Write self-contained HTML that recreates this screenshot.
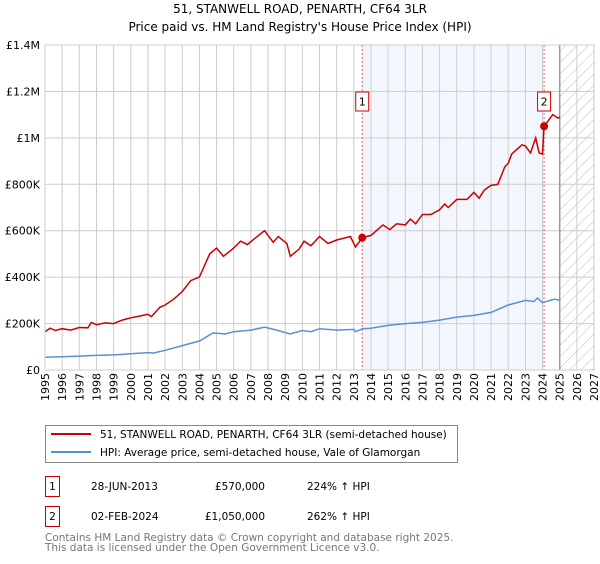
<!DOCTYPE html>
<html><head><meta charset="utf-8"><style>
body{margin:0;background:#fff;font-family:"DejaVu Sans","Liberation Sans",sans-serif;}
svg text{font-family:"DejaVu Sans","Liberation Sans",sans-serif;}
</style></head><body>
<svg width="600" height="560" viewBox="0 0 600 560" xmlns="http://www.w3.org/2000/svg">
<defs><pattern id="hatch" width="8" height="8" patternUnits="userSpaceOnUse" patternTransform="rotate(45)"><line x1="0" y1="0" x2="0" y2="8" stroke="#bbb" stroke-width="1"/></pattern></defs>
<text x="300" y="13" text-anchor="middle" font-size="12">51, STANWELL ROAD, PENARTH, CF64 3LR</text>
<text x="300" y="31" text-anchor="middle" font-size="12">Price paid vs. HM Land Registry's House Price Index (HPI)</text>
<g id="plot"></g>
<g>
<rect x="45.5" y="425.5" width="412" height="37" fill="#fff" stroke="#888"/>
<line x1="51" y1="434" x2="91" y2="434" stroke="#cc0000" stroke-width="2"/>
<text x="100" y="438" font-size="10.5">51, STANWELL ROAD, PENARTH, CF64 3LR (semi-detached house)</text>
<line x1="51" y1="452" x2="91" y2="452" stroke="#5b8fd4" stroke-width="2"/>
<text x="100" y="456" font-size="10.5">HPI: Average price, semi-detached house, Vale of Glamorgan</text>
</g>
<g font-size="10.5">
<rect x="45.5" y="476.5" width="14" height="20" fill="#fff" stroke="#cc0000"/>
<text x="52.5" y="490" text-anchor="middle">1</text>
<text x="91" y="490">28-JUN-2013</text>
<text x="265" y="490" text-anchor="end">£570,000</text>
<text x="307" y="490">224% ↑ HPI</text>
<rect x="45.5" y="506.5" width="14" height="20" fill="#fff" stroke="#cc0000"/>
<text x="52.5" y="520" text-anchor="middle">2</text>
<text x="91" y="520">02-FEB-2024</text>
<text x="265" y="520" text-anchor="end">£1,050,000</text>
<text x="307" y="520">262% ↑ HPI</text>
</g>
<text x="45" y="541" font-size="10.5" fill="#777">Contains HM Land Registry data © Crown copyright and database right 2025.</text>
<text x="45" y="551" font-size="10.5" fill="#777">This data is licensed under the Open Government Licence v3.0.</text>
</svg>
<script>
const yTicks=[0,200000,400000,600000,800000,1000000,1200000,1400000];
const yTickLabels=["£0","£200K","£400K","£600K","£800K","£1M","£1.2M","£1.4M"];
const xYears=[1995,1996,1997,1998,1999,2000,2001,2002,2003,2004,2005,2006,2007,2008,2009,2010,2011,2012,2013,2014,2015,2016,2017,2018,2019,2020,2021,2022,2023,2024,2025,2026,2027];
const redT=[1995,1995.3,1995.6,1996,1996.5,1997,1997.5,1997.7,1998,1998.5,1999,1999.5,2000,2000.5,2001,2001.2,2001.7,2002,2002.5,2003,2003.5,2004,2004.6,2005,2005.4,2006,2006.4,2006.8,2007.2,2007.8,2008.3,2008.6,2009.1,2009.3,2009.8,2010.1,2010.5,2011,2011.5,2012,2012.8,2013.1,2013.49,2014,2014.7,2015.1,2015.5,2016,2016.3,2016.6,2017,2017.5,2018,2018.3,2018.5,2019,2019.6,2020,2020.3,2020.6,2021,2021.4,2021.8,2022,2022.2,2022.8,2023,2023.3,2023.6,2023.8,2024.0,2024.09,2024.6,2024.9,2025];
const redV=[165000,180000,170000,178000,172000,183000,182000,205000,195000,203000,200000,215000,225000,232000,240000,230000,270000,280000,305000,338000,385000,400000,500000,525000,490000,525000,555000,540000,565000,600000,550000,575000,545000,490000,520000,555000,535000,575000,545000,560000,575000,530000,570000,580000,625000,605000,630000,625000,650000,630000,670000,670000,690000,715000,700000,735000,735000,765000,740000,775000,795000,800000,875000,890000,930000,970000,965000,935000,1000000,935000,930000,1050000,1100000,1085000,1090000];
const blueT=[1995,1996,1997,1998,1999,2000,2001,2001.3,2002,2003,2004,2004.8,2005.5,2006,2007,2007.8,2008.5,2009.3,2010,2010.5,2011,2012,2013,2013.1,2013.5,2014,2015,2016,2017,2018,2019,2020,2021,2022,2023,2023.5,2023.7,2024,2024.7,2025];
const blueV=[55000,57000,60000,63000,65000,70000,75000,73000,85000,105000,125000,160000,155000,165000,172000,185000,172000,155000,170000,165000,178000,172000,175000,165000,178000,180000,192000,200000,205000,215000,228000,235000,248000,280000,300000,295000,310000,290000,305000,300000];
const sales=[{t:2013.49,v:570000,label:"1"},{t:2024.09,v:1050000,label:"2"}];
const X0=45,X1=594,Y0=370,Y1=45;
const xs=t=>X0+(t-1995)/(2027-1995)*(X1-X0);
const ys=v=>Y0-v/1400000*(Y0-Y1);
const NS="http://www.w3.org/2000/svg";
const g=document.getElementById('plot');
function mk(tag,attrs,parent){const e=document.createElementNS(NS,tag);for(const k in attrs)e.setAttribute(k,attrs[k]);(parent||g).appendChild(e);return e;}
let r=mk('rect',{x:xs(sales[0].t),y:Y1,width:xs(sales[1].t)-xs(sales[0].t),height:Y0-Y1,fill:'#eef3fc',opacity:0.7});


r=mk('rect',{x:xs(2025),y:Y1,width:X1-xs(2025),height:Y0-Y1,fill:'url(#hatch)'});


xYears.forEach(y=>{const l=mk('line',{x1:xs(y),x2:xs(y),y1:Y1,y2:Y0,stroke:'#ccc','stroke-width':1});


const t=mk('text',{x:0,y:0,'font-size':11,'text-anchor':'end',transform:`translate(${xs(y)+4},${Y0+3}) rotate(-90)`});t.textContent=y;

});
yTicks.forEach((v,i)=>{const l=mk('line',{x1:X0,x2:X1,y1:ys(v),y2:ys(v),stroke:'#ccc','stroke-width':1});


const t=mk('text',{x:X0-5,y:ys(v)+4,'font-size':11,'text-anchor':'end'});t.textContent=yTickLabels[i];

});
let d=mk('line',{x1:xs(2025),x2:xs(2025),y1:Y1,y2:Y0,stroke:'#999','stroke-width':1.5});


sales.forEach(s=>{const l=mk('line',{x1:xs(s.t),x2:xs(s.t),y1:Y1,y2:Y0,stroke:'#e06666','stroke-width':1,'stroke-dasharray':'2,2'});

});
function path(T,V,color,name){const p=mk('path',{d:T.map((t,i)=>(i?'L':'M')+xs(t).toFixed(1)+','+ys(V[i]).toFixed(1)).join(''),fill:'none',stroke:color,'stroke-width':1.5});

}
path(blueT,blueV,'#5b8fd4','hpi-line');
path(redT,redV,'#cc0000','property-line');
sales.forEach(s=>{const c=mk('circle',{cx:xs(s.t),cy:ys(s.v),r:4,fill:'#cc0000'});


const b=mk('rect',{x:xs(s.t)-6.5,y:92,width:13,height:19,fill:'#fff',stroke:'#cc0000'});


const t=mk('text',{x:xs(s.t),y:105.5,'font-size':11,'text-anchor':'middle'});t.textContent=s.label;

});
const ax=mk('rect',{x:X0,y:Y1,width:X1-X0,height:Y0-Y1,fill:'none',stroke:'#ccc'});


</script>
</body></html>
